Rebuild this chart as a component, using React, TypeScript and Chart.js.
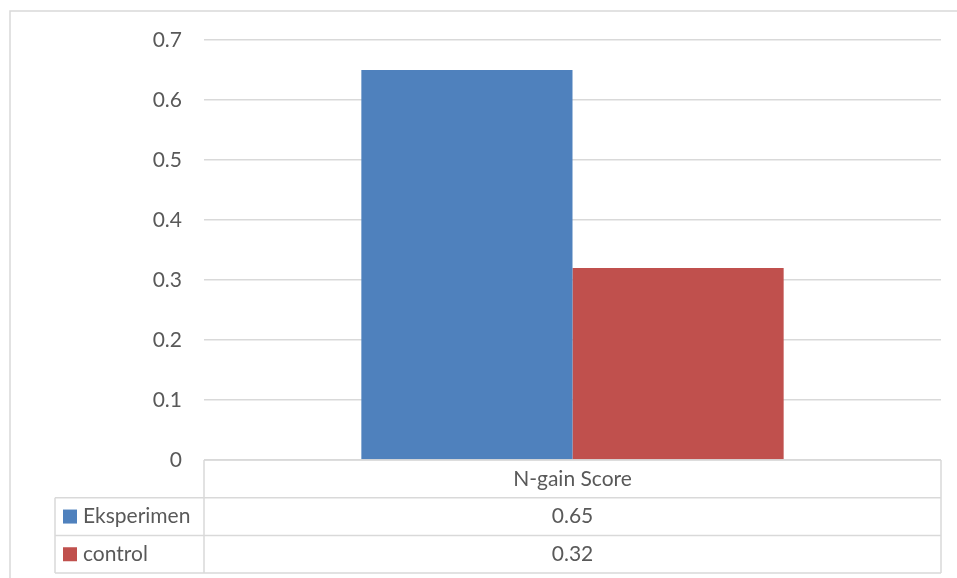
import React, { useEffect, useRef } from "react";
import { Chart, registerables } from "chart.js";

Chart.register(...registerables);

const categories = ["N-gain Score"];
const seriesNames = ["Eksperimen", "control"];
const eksperimenValues = [0.65];
const controlValues = [0.32];
const seriesColors = ["#4F81BD", "#C0504D"];
const yMax = 0.7;
const yStep = 0.1;

const FONT = "Lato";
const FONT_SIZE = 21;
const TEXT_COLOR = "#595959";
const LINE_COLOR = "#D9D9D9";

const tablePlugin = {
  id: "dataTable",
  afterDraw(chart: any) {
    const ctx = chart.ctx;
    const area = chart.chartArea;
    const xs = chart.scales.x;
    const rowH = 37.7;
    const labelColLeft = area.left - 149;
    const top = area.bottom;
    ctx.save();
    // outer chart border (left/top visible)
    ctx.strokeStyle = LINE_COLOR;
    ctx.lineWidth = 1.5;
    ctx.strokeRect(10, 11, 2000, 2000);
    // table lines
    ctx.beginPath();
    // header row
    ctx.moveTo(area.left, top);
    ctx.lineTo(area.right, top);
    ctx.moveTo(area.right, top);
    ctx.lineTo(area.right, top + rowH * 3);
    ctx.moveTo(area.left, top);
    ctx.lineTo(area.left, top + rowH * 3);
    for (let r = 1; r <= 3; r++) {
      ctx.moveTo(labelColLeft, top + rowH * r);
      ctx.lineTo(area.right, top + rowH * r);
    }
    ctx.moveTo(labelColLeft, top + rowH);
    ctx.lineTo(labelColLeft, top + rowH * 3);
    ctx.stroke();

    ctx.font = `${FONT_SIZE}px ${FONT}`;
    ctx.fillStyle = TEXT_COLOR;
    ctx.textBaseline = "middle";
    ctx.textAlign = "center";
    categories.forEach((c, i) => {
      const cx = xs.getPixelForValue(i);
      ctx.fillText(c, cx, top + rowH / 2);
    });
    const allValues = [eksperimenValues, controlValues];
    seriesNames.forEach((name, s) => {
      const cy = top + rowH * (s + 1) + rowH / 2;
      ctx.fillStyle = seriesColors[s];
      ctx.fillRect(labelColLeft + 8, cy - 7, 14, 14);
      ctx.fillStyle = TEXT_COLOR;
      ctx.textAlign = "left";
      ctx.fillText(name, labelColLeft + 28, cy);
      ctx.textAlign = "center";
      categories.forEach((_, i) => {
        ctx.fillText(String(allValues[s][i]), xs.getPixelForValue(i), cy);
      });
    });
    ctx.restore();
  },
};

export default function App() {
  const canvasRef = useRef<HTMLCanvasElement>(null);
  useEffect(() => {
    document.body.style.margin = "0";
    const chart = new Chart(canvasRef.current!, {
      type: "bar",
      data: {
        labels: categories,
        datasets: [
          { label: seriesNames[0], data: eksperimenValues, backgroundColor: seriesColors[0] },
          { label: seriesNames[1], data: controlValues, backgroundColor: seriesColors[1] },
        ],
      },
      options: {
        animation: false,
        responsive: true,
        maintainAspectRatio: false,
        layout: { padding: { left: 10, top: 40, right: 16, bottom: 118 } },
        plugins: { legend: { display: false }, tooltip: { enabled: false } },
        datasets: { bar: { categoryPercentage: 0.573, barPercentage: 1 } },
        scales: {
          x: { display: false },
          y: {
            min: 0,
            max: yMax,
            ticks: {
              stepSize: yStep,
              padding: 22,
              color: TEXT_COLOR,
              font: { family: FONT, size: FONT_SIZE },
            },
            grid: { color: LINE_COLOR, lineWidth: 1.5, drawTicks: false },
            border: { display: false },
            afterFit(scale: any) {
              scale.width = 194;
            },
          },
        },
      },
      plugins: [tablePlugin],
    });
    return () => chart.destroy();
  }, []);
  return (
    <div style={{ position: "fixed", left: 0, top: 0, width: 957, height: 578 }}>
      <canvas ref={canvasRef} />
    </div>
  );
}
